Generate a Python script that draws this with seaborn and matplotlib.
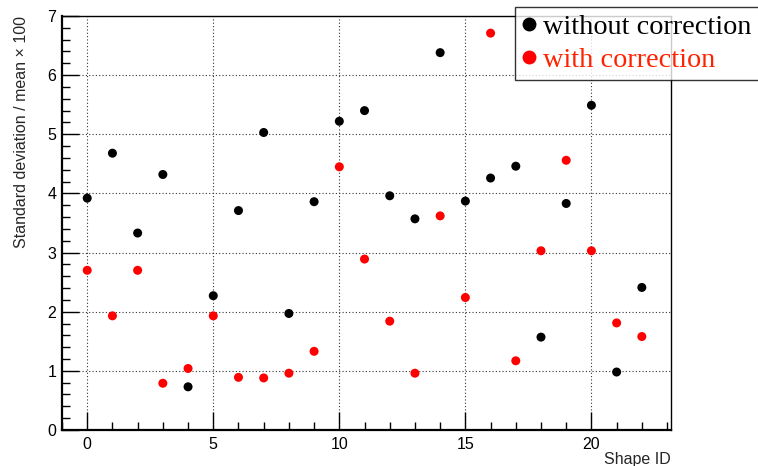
import numpy as np
import pandas as pd
import matplotlib
matplotlib.use("Agg")
import matplotlib.pyplot as plt
from matplotlib.ticker import MultipleLocator
from matplotlib.lines import Line2D
import seaborn as sns

# data
shape_id = list(range(23))
without_corr = [3.92, 4.68, 3.33, 4.32, 0.73, 2.27, 3.71, 5.03, 1.97, 3.86, 5.22, 5.40,
                3.96, 3.57, 6.38, 3.87, 4.26, 4.46, 1.57, 3.83, 5.49, 0.98, 2.41]
with_corr = [2.70, 1.93, 2.70, 0.79, 1.04, 1.93, 0.89, 0.88, 0.96, 1.33, 4.45, 2.89,
             1.84, 0.96, 3.62, 2.24, 6.71, 1.17, 3.03, 4.56, 3.03, 1.81, 1.58]
series_names = ["without correction", "with correction"]
series_colors = ["black", "#ff0000"]
text_colors = ["black", "#ff2200"]

df = pd.concat([
    pd.DataFrame({"shape": shape_id, "value": without_corr, "series": series_names[0]}),
    pd.DataFrame({"shape": shape_id, "value": with_corr, "series": series_names[1]}),
])

sns.set_style("white")
plt.rcParams["font.family"] = ["Liberation Sans", "DejaVu Sans"]

fig = plt.figure(figsize=(7.58, 4.66), dpi=100)
ax = fig.add_axes([0.0818, 0.0773, 0.8032, 0.8884])

sns.scatterplot(data=df, x="shape", y="value", hue="series",
                palette=dict(zip(series_names, series_colors)),
                s=42, linewidth=0, legend=False, ax=ax, zorder=3)

ax.set_xlim(-1, 23.15)
ax.set_ylim(0, 7)
ax.xaxis.set_major_locator(MultipleLocator(5))
ax.xaxis.set_minor_locator(MultipleLocator(1))
ax.yaxis.set_major_locator(MultipleLocator(1))
ax.yaxis.set_minor_locator(MultipleLocator(0.2))
ax.tick_params(which="both", direction="in", bottom=True, left=True,
               top=False, right=False, colors="black", width=1)
ax.tick_params(axis="x", which="major", length=13, labelsize=11.5, pad=5)
ax.tick_params(axis="x", which="minor", length=6)
ax.tick_params(axis="y", which="major", length=12, labelsize=11.5, pad=4)
ax.tick_params(axis="y", which="minor", length=6)

ax.grid(True, which="major", linestyle=(0, (1, 2)), color="#333333", linewidth=0.8)
ax.set_axisbelow(True)
for side in ["left", "bottom"]:
    ax.spines[side].set_linewidth(1.6)
for side in ["right", "top"]:
    ax.spines[side].set_linewidth(1.0)
for sp in ax.spines.values():
    sp.set_color("black")

ax.set_xlabel("Shape ID", fontsize=11.5, loc="right", labelpad=0)
ax.set_ylabel("Standard deviation / mean \u00d7 100", fontsize=11.5, loc="top", labelpad=13)

handles = [Line2D([], [], marker="o", linestyle="", color=c, markersize=9)
           for c in series_colors]
leg = fig.legend(handles, series_names, loc="upper left",
                 bbox_to_anchor=(515 / 758, 1 - 7 / 466),
                 prop={"family": "Liberation Serif", "size": 20.3},
                 frameon=True, fancybox=False, edgecolor="black",
                 handlelength=0.5, handletextpad=0.25, borderpad=0.25,
                 labelspacing=0.25, borderaxespad=0)
leg.get_frame().set_linewidth(1.0)
for t, c in zip(leg.get_texts(), text_colors):
    t.set_color(c)

fig.savefig("out.png", dpi=100)
